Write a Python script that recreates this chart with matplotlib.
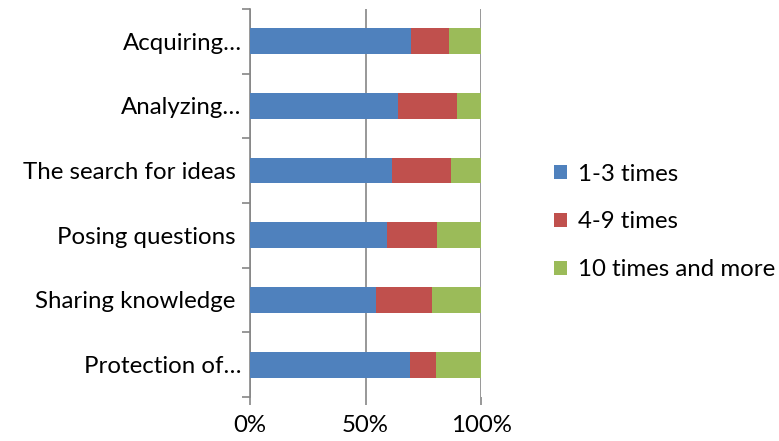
import matplotlib.pyplot as plt
import numpy as np

plt.rcParams['font.family'] = ['Lato', 'DejaVu Sans']

categories = ["Protection of…", "Sharing knowledge ", "Posing questions ",
              "The search for ideas ", "Analyzing…", "Acquiring…"]
series = ["1-3 times", "4-9 times", "10 times and more"]
# shares in percent, bottom category first
low = [69.4, 54.5, 59.4, 61.3, 64.1, 69.8]
mid = [11.1, 24.3, 21.7, 25.7, 25.5, 16.3]
high = [19.5, 21.2, 18.9, 13.0, 10.4, 13.9]
colors = ["#4f81bd", "#c0504d", "#9bbb59"]

fig = plt.figure(figsize=(7.79, 4.41), dpi=100)
ax = fig.add_axes([0.321, 0.0998, 0.2965, 0.8802])

y = np.arange(len(categories))
left = np.zeros(len(categories))
for vals, name, c in zip([low, mid, high], series, colors):
    ax.barh(y, vals, left=left, height=0.4, color=c, label=name, zorder=3)
    left += np.array(vals)

fs = 17.3
ax.set_xlim(0, 100)
ax.set_ylim(-0.5, len(categories) - 0.5)
ax.set_xticks([0, 50, 100])
ax.set_xticklabels(["0%", "50%", "100%"], fontsize=fs)
ax.set_yticks(y)
ax.set_yticklabels(categories, fontsize=fs)
ax.tick_params(axis='y', length=0, pad=6)
ax.set_yticks(np.arange(-0.5, len(categories), 1), minor=True)
ax.tick_params(axis='y', which='minor', length=6, color='#868686', width=1.2)
ax.tick_params(axis='x', length=6, color='#868686', width=1.2, pad=7)

ax.grid(axis='x', color='#868686', linewidth=1.2, zorder=0)
for s in ['top', 'right', 'bottom']:
    ax.spines[s].set_visible(False)
ax.spines['left'].set_color('#868686')
ax.spines['left'].set_linewidth(1.2)

ax.legend(loc='center left', bbox_to_anchor=(1.222, 0.451), frameon=False,
          fontsize=fs, handlelength=0.55, handleheight=0.55,
          labelspacing=1.12, handletextpad=0.45)

fig.savefig("out.png", dpi=100)
